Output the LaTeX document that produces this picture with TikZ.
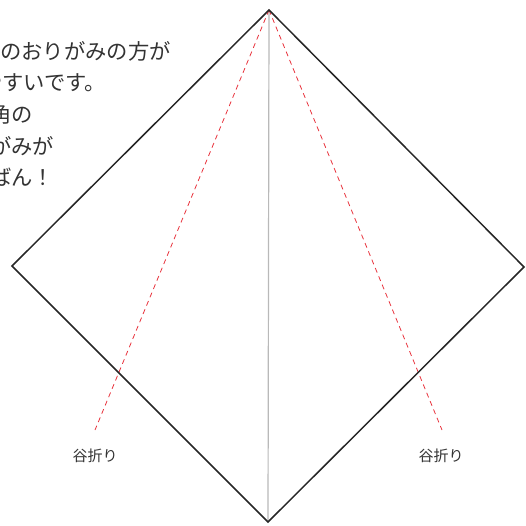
\documentclass[tikz,border=0pt]{standalone}
\usepackage{fontspec}
\newfontfamily\jpfont{Noto Sans CJK JP}
\definecolor{inkgray}{HTML}{333333}
\definecolor{foldred}{HTML}{E8323C}
\begin{document}
\begin{tikzpicture}[x=1pt, y=-1pt,
    line/.style={font=\jpfont\fontsize{21.3}{21.3}\selectfont, text=inkgray, anchor=west, inner sep=0pt},
    foldlabel/.style={font=\jpfont\fontsize{15}{15}\selectfont, text=inkgray, inner sep=0pt},
    valley/.style={foldred, line width=0.8pt, dash pattern=on 5pt off 4pt}]
    \useasboundingbox (0,0) rectangle (525,526);
    \clip (0,0) rectangle (525,526);
    % corners of the sheet
    \coordinate (top) at (269,10);
    \coordinate (left) at (12,266);
    \coordinate (right) at (524,267);
    \coordinate (bottom) at (268,522);
    \coordinate (vl) at (95,430);
    \coordinate (vr) at (442,430);
    % text (cut at the left edge)
    \node[line] (l1) at (0,51) {のおりがみの方が};
    \node[line] (l2) at (-19,83) {やすいです。};
    \node[line] (l3) at (-10,114) {角の};
    \node[line] (l4) at (-10,146) {がみが};
    \node[line] (l5) at (-10,177) {ばん！};
    % center crease
    \draw[gray!55, line width=1.2pt] (top) -- (bottom);
    % valley folds
    \draw[valley] (top) -- (vl);
    \draw[valley] (top) -- (vr);
    \node[foldlabel] (fl) at (95,456) {谷折り};
    \node[foldlabel] (fr) at (441,456) {谷折り};
    % the sheet
    \draw[black!85, line width=1.5pt, line join=miter] (top) -- (right) -- (bottom) -- (left) -- cycle;
\end{tikzpicture}
\end{document}
